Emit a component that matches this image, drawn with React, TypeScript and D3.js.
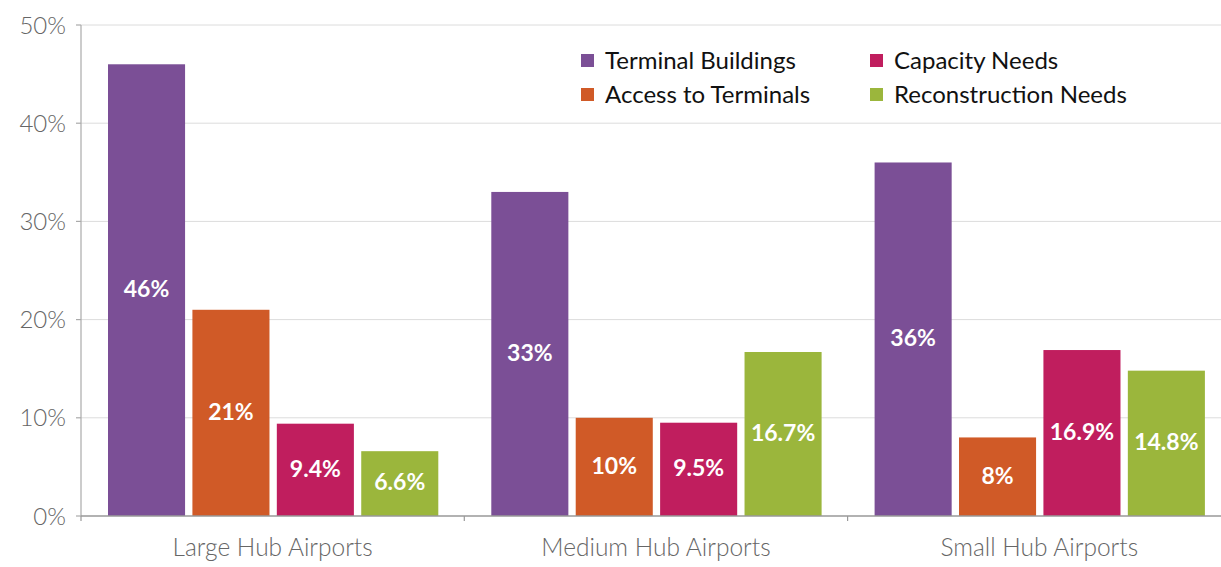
import React from "react";
import * as d3 from "d3";

const categories = ["Large Hub Airports", "Medium Hub Airports", "Small Hub Airports"];
const seriesNames = ["Terminal Buildings", "Access to Terminals", "Capacity Needs", "Reconstruction Needs"];
const seriesColors = ["#7B4F96", "#D05A27", "#C01E5E", "#9BB63C"];
const terminalBuildings = [46, 33, 36];
const accessToTerminals = [21, 10, 8];
const capacityNeeds = [9.4, 9.5, 16.9];
const reconstructionNeeds = [6.6, 16.7, 14.8];
const valueLabels = [
  ["46%", "33%", "36%"],
  ["21%", "10%", "8%"],
  ["9.4%", "9.5%", "16.9%"],
  ["6.6%", "16.7%", "14.8%"],
];
const yTicks = [0, 10, 20, 30, 40, 50];

const W = 1221;
const H = 567;
const FONT = "Lato, 'Open Sans', sans-serif";

export default function App() {
  const series = [terminalBuildings, accessToTerminals, capacityNeeds, reconstructionNeeds];
  const left = 81;
  const top = 25;
  const bottom = 516;
  const y = d3.scaleLinear().domain([0, 50]).range([bottom, top]);
  const x0 = d3.scaleBand<string>().domain(categories).range([left, left + 383.3 * 3]).padding(0);
  const bw0 = x0.bandwidth();
  const x1 = d3
    .scaleBand<string>()
    .domain(seriesNames)
    .range([27, bw0 - 26])
    .paddingInner(0.087)
    .paddingOuter(0);

  const legendItems = [
    { i: 0, x: 581, y: 60 },
    { i: 2, x: 870, y: 60 },
    { i: 1, x: 581, y: 94 },
    { i: 3, x: 870, y: 94 },
  ];

  return (
    <svg width={W} height={H} style={{ position: "absolute", left: 0, top: 0, background: "#fff" }}>
      {/* gridlines */}
      {yTicks.map((t) =>
        t === 0 ? null : (
          <line key={"g" + t} x1={left} x2={W} y1={y(t)} y2={y(t)} stroke="#dcdcdc" strokeWidth={1} />
        )
      )}
      {/* y axis */}
      <line x1={left} x2={left} y1={top} y2={bottom} stroke="#aaa" strokeWidth={1.2} />
      {yTicks.map((t) => (
        <g key={"t" + t}>
          <line x1={left - 5} x2={left} y1={y(t)} y2={y(t)} stroke="#aaa" strokeWidth={1.2} />
          <text
            x={66}
            y={y(t)}
            dy="0.36em"
            textAnchor="end"
            fontFamily={FONT}
            fontWeight={300}
            fontSize={24}
            fill="#666"
          >
            {t + "%"}
          </text>
        </g>
      ))}
      {/* bars */}
      {categories.map((c, ci) => (
        <g key={c} transform={`translate(${x0(c)},0)`}>
          {seriesNames.map((s, si) => {
            const v = series[si][ci];
            const bx = x1(s)!;
            const by = y(v);
            return (
              <g key={s}>
                <rect x={bx} y={by} width={x1.bandwidth()} height={bottom - by} fill={seriesColors[si]} />
                <text
                  x={bx + x1.bandwidth() / 2}
                  y={(by + bottom) / 2}
                  dy="0.3em"
                  textAnchor="middle"
                  fontFamily={FONT}
                  fontWeight={700}
                  fontSize={23}
                  fill="#fff"
                >
                  {valueLabels[si][ci]}
                </text>
              </g>
            );
          })}
        </g>
      ))}
      {/* x axis */}
      <line x1={left} x2={W} y1={bottom} y2={bottom} stroke="#999" strokeWidth={1.5} />
      {categories.map((c, ci) => (
        <g key={"x" + c}>
          {ci > 0 && (
            <line x1={x0(c)!} x2={x0(c)!} y1={bottom} y2={bottom + 5} stroke="#999" strokeWidth={1.2} />
          )}
          <text
            x={x0(c)! + bw0 / 2}
            y={556}
            textAnchor="middle"
            fontFamily={FONT}
            fontWeight={300}
            fontSize={24.5}
            fill="#666"
          >
            {c}
          </text>
        </g>
      ))}
      <line x1={left} x2={left} y1={bottom} y2={bottom + 5} stroke="#999" strokeWidth={1.2} />
      {/* legend */}
      {legendItems.map((it) => (
        <g key={"l" + it.i}>
          <rect x={it.x} y={it.y - 6} width={13} height={13} fill={seriesColors[it.i]} />
          <text
            x={it.x + 24}
            y={it.y}
            dy="0.36em"
            fontFamily={FONT}
            fontWeight={400}
            fontSize={24}
            fill="#111"
          >
            {seriesNames[it.i]}
          </text>
        </g>
      ))}
    </svg>
  );
}
